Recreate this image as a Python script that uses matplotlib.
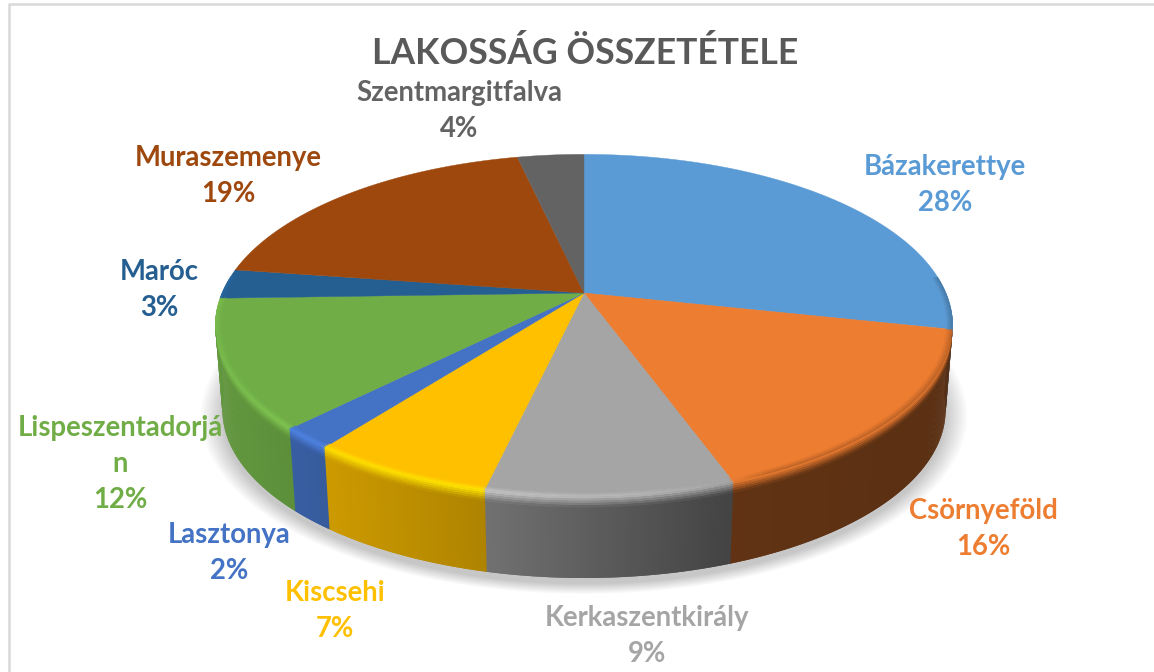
import matplotlib
matplotlib.use("Agg")
import matplotlib.pyplot as plt
import numpy as np
from matplotlib.collections import PolyCollection
from matplotlib.colors import to_rgb
from matplotlib.patches import Polygon

# --- Data ---
title = "LAKOSSÁG ÖSSZETÉTELE"
towns = ["Bázakerettye", "Csörnyeföld", "Kerkaszentkirály", "Kiscsehi", "Lasztonya",
         "Lispeszentadorján", "Maróc", "Muraszemenye", "Szentmargitfalva"]
shares = [28.4, 16.1, 9.1, 6.8, 2.0, 12.1, 2.8, 19.2, 3.5]
colors = ["#5b9bd5", "#ed7d31", "#a5a5a5", "#ffc000", "#4472c4",
          "#70ad47", "#255e91", "#9e480e", "#636363"]

# --- Layout (pixels of the 1154x672 picture) ---
label_x = [945, 983, 647, 335, 229, 120, 159, 228, 459]
label_y = [185, 529, 636, 611, 553, 464, 290, 176, 111]
TOP = dict(cy=293, R=362, S=165)
BOTTOM = dict(cy=378, R=355, S=162)
K = 0.19

plt.rcParams["font.family"] = ["Lato", "DejaVu Sans"]
plt.rcParams["font.weight"] = "bold"


def project(theta, disk, r=1.0):
    """Perspective view of a point on a disk, theta clockwise from the top."""
    u = r * np.sin(theta)
    v = r * np.cos(theta)
    w = 1 + K * v
    return 584 + disk["R"] * u / w, disk["cy"] - disk["S"] * v / w


def wall_shade(x):
    return np.interp(x, [220, 300, 490, 730, 950], [0.87, 0.82, 0.68, 0.41, 0.38])


def highlight(x):
    return np.interp(x, [220, 300, 480, 640, 735], [0.45, 0.75, 1.0, 0.6, 0.0])


def strip_quads(xa, ya, xb, yb, keep):
    # each quad runs on over the next step, that hides the seams
    last = len(xa) - 1
    return [[(xa[i], ya[i]), (xa[min(i + 2, last)], ya[min(i + 2, last)]),
             (xb[min(i + 2, last)], yb[min(i + 2, last)]), (xb[i], yb[i])] for i in keep]


fig = plt.figure(figsize=(11.54, 6.72), dpi=100)
ax = fig.add_axes([0, 0, 1, 1])
ax.set_xlim(0, 1154)
ax.set_ylim(672, 0)
ax.axis("off")

# chart border, only left and top show
ax.plot([9, 9, 1154], [672, 4, 4], color="#d9d9d9", lw=1.8)

# soft shadow below the pie
grid = np.linspace(0, 2 * np.pi, 361)
for s in np.linspace(1.06, 1.0, 14):
    bx, by = project(grid, BOTTOM)
    ax.add_patch(Polygon(np.c_[584 + (bx - 584) * s, 412 + (by - 412) * s + 6],
                         color="black", alpha=0.014, lw=0))

# cumulative angle of slice edges
edges = np.cumsum([0] + shares) / sum(shares) * 2 * np.pi
base = np.array([to_rgb(c) for c in colors])

# side wall, small quads so that the shade can follow x
th = np.radians(np.arange(0, 360.01, 0.3))
mid = (th[:-1] + th[1:]) / 2
idx = np.clip(np.searchsorted(edges, mid) - 1, 0, len(shares) - 1)
x0, y0 = project(th, TOP)
x1, y1 = project(th, BOTTOM)
xm = (x0[:-1] + x0[1:]) / 2
visible = np.where(np.cos(mid) < -0.1)[0]
wall_cols = base[idx] * wall_shade(xm)[:, None]
ax.add_collection(PolyCollection(strip_quads(x0, y0, x1, y1, visible),
                                 facecolors=wall_cols[visible], edgecolors="none"))

# top of the pie
for i, name in enumerate(towns):
    a = np.linspace(edges[i], edges[i + 1], 150)
    rx, ry = project(a, TOP)
    ax.add_patch(Polygon(np.r_[[project(0.0, TOP, 0.0)], np.c_[rx, ry]], color=colors[i], lw=0.3))

# rounded rim between top and wall
steps = np.linspace(0, 1, 11)
hl = base[idx] + (np.clip(base[idx] * 1.2, 0, 1) - base[idx]) * highlight(xm)[:, None]
right_dark = np.clip((xm - 735) / 100, 0, 0.35)[:, None]


def rim(t):
    if t < 0.5:
        return project(th, TOP, 0.982 + 0.018 * t * 2)
    f = (t - 0.5) * 2 * 0.13
    return x0 + (x1 - x0) * f, y0 + (y1 - y0) * f


for t0, t1 in zip(steps[:-1], steps[1:]):
    t = (t0 + t1) / 2
    if t < 0.5:
        keep = np.where(np.cos(mid) < 0.1)[0]
        cols = base[idx] + (hl - base[idx]) * (t * 2)
        cols = cols + (wall_cols - cols) * right_dark * (t * 2)
    else:
        keep = np.where(np.cos(mid) < -0.19)[0]
        cols = hl + (wall_cols - hl) * ((t - 0.5) * 2)
    xa, ya = rim(t0)
    xb, yb = rim(t1)
    ax.add_collection(PolyCollection(strip_quads(xa, ya, xb, yb, keep),
                                     facecolors=cols[keep], edgecolors="none"))

# --- Text ---
ax.text(585, 53, title, color="#595959", fontsize=25.6, ha="center", va="center")
for i, name in enumerate(towns):
    shown = name if len(name) <= 16 else name[:16] + "\n" + name[16:]
    ax.text(label_x[i], label_y[i], f"{shown}\n{shares[i]:.0f}%", color=colors[i], fontsize=19.8,
            ha="center", va="center", multialignment="center", linespacing=1.47)

fig.savefig("out.png", dpi=100, facecolor="white")
